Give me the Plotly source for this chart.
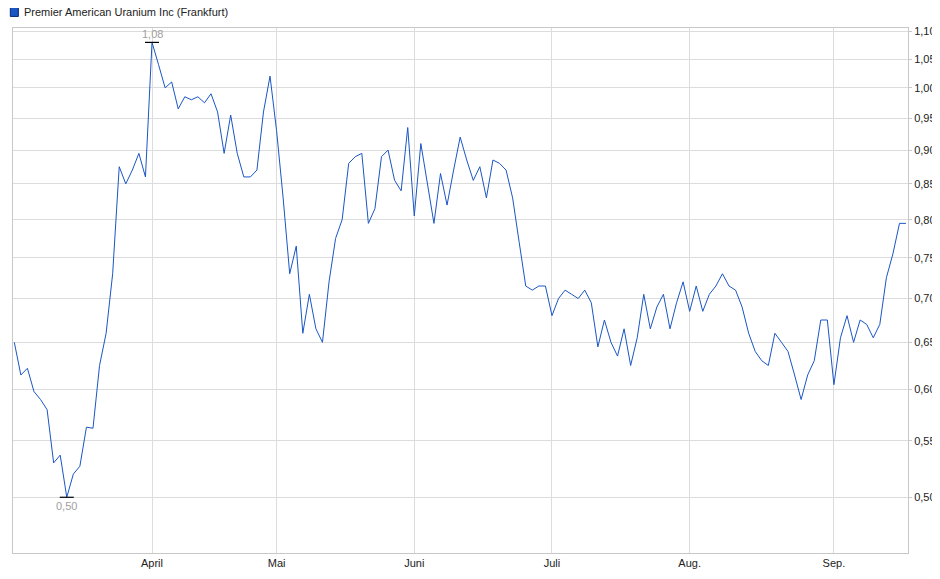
import math
import plotly.graph_objects as go

# daily closing prices (trading-day index)
prices = [
    0.65, 0.615, 0.622, 0.598, 0.59, 0.58, 0.53, 0.537, 0.50, 0.52, 0.527, 0.563, 0.562, 0.625, 0.66,
    0.73, 0.875, 0.85, 0.87, 0.895, 0.86, 1.08,
    1.04, 1.00, 1.01, 0.965, 0.985, 0.98, 0.985, 0.975, 0.99, 0.96, 0.895, 0.955, 0.895, 0.86, 0.86,
    0.87, 0.96, 1.02, 0.93, 0.83, 0.73, 0.765, 0.66, 0.705, 0.665, 0.65, 0.72, 0.775, 0.80, 0.88,
    0.89, 0.895, 0.795, 0.815, 0.89, 0.90, 0.855, 0.84, 0.935, 0.805, 0.91, 0.85, 0.795, 0.865, 0.82,
    0.87, 0.92, 0.885, 0.855, 0.875, 0.83, 0.885, 0.88, 0.87, 0.83, 0.77, 0.715, 0.71, 0.715, 0.715,
    0.68, 0.70, 0.71, 0.705, 0.70, 0.71, 0.695, 0.645, 0.675, 0.65, 0.635, 0.665, 0.625, 0.655, 0.705,
    0.665, 0.69, 0.705, 0.665, 0.695, 0.72, 0.685, 0.715, 0.685, 0.705, 0.715, 0.73, 0.715, 0.71, 0.69,
    0.66, 0.64, 0.63, 0.625, 0.66, 0.65, 0.64, 0.615, 0.59, 0.615, 0.63, 0.675, 0.675, 0.605, 0.655,
    0.68, 0.65, 0.675, 0.67, 0.655, 0.67, 0.725, 0.755, 0.795, 0.795,
]
days = list(range(len(prices)))

month_labels = ["April", "Mai", "Juni", "Juli", "Aug.", "Sep."]
month_start_idx = [21, 40, 61, 82, 103, 125]

y_ticks = [0.50, 0.55, 0.60, 0.65, 0.70, 0.75, 0.80, 0.85, 0.90, 0.95, 1.00, 1.05, 1.10]
y_labels = [f"{v:.2f}".replace(".", ",") for v in y_ticks]

title = "Premier American Uranium Inc (Frankfurt)"
line_color = "#1a56c4"

hi = max(prices)
lo = min(prices)
i_hi = prices.index(hi)
i_lo = prices.index(lo)

fig = go.Figure()
fig.add_trace(go.Scatter(
    x=days, y=prices, mode="lines",
    line=dict(color=line_color, width=1),
    name=title, showlegend=False,
))
# high / low markers
fig.add_trace(go.Scatter(
    x=[i_hi, i_lo], y=[hi, lo], mode="markers",
    marker=dict(symbol="line-ew", size=10, line=dict(color="black", width=1.2)),
    showlegend=False, hoverinfo="skip",
))
fig.add_annotation(x=i_hi, y=math.log10(hi), text=f"{hi:.2f}".replace(".", ","), showarrow=False,
                   yshift=8, font=dict(color="#a0a0a0", size=11))
fig.add_annotation(x=i_lo, y=math.log10(lo), text=f"{lo:.2f}".replace(".", ","), showarrow=False,
                   yshift=-9, font=dict(color="#a0a0a0", size=11))

# legend-like header
fig.add_shape(type="rect", xref="paper", yref="paper", x0=-0.003, x1=0.006, y0=1.022, y1=1.04,
              fillcolor=line_color, line=dict(color="#0a2a70", width=1))
fig.add_annotation(xref="paper", yref="paper", x=0.01, y=1.031, xanchor="left", yanchor="middle",
                   text=title, showarrow=False, font=dict(size=11, color="#222"))

fig.update_layout(
    width=940, height=579,
    margin=dict(l=5, r=40, t=20, b=34),
    plot_bgcolor="white", paper_bgcolor="white",
    font=dict(family="Arial, Liberation Sans", size=11, color="#222"),
    showlegend=False,
    xaxis=dict(range=[-0.2, 136.3], tickvals=month_start_idx, ticktext=month_labels,
               showgrid=True, gridcolor="#dcdcdc", zeroline=False, showline=True,
               linecolor="#c8c8c8", mirror=True, ticks="", automargin=False),
    yaxis=dict(type="log", range=[-0.342, 0.044], side="right", tickvals=y_ticks,
               ticktext=y_labels, showgrid=True, gridcolor="#dcdcdc", zeroline=False,
               showline=True, linecolor="#c8c8c8", mirror=True, ticks="outside",
               ticklen=3, tickcolor="#c8c8c8", automargin=False),
)

fig.write_html("out.html")
